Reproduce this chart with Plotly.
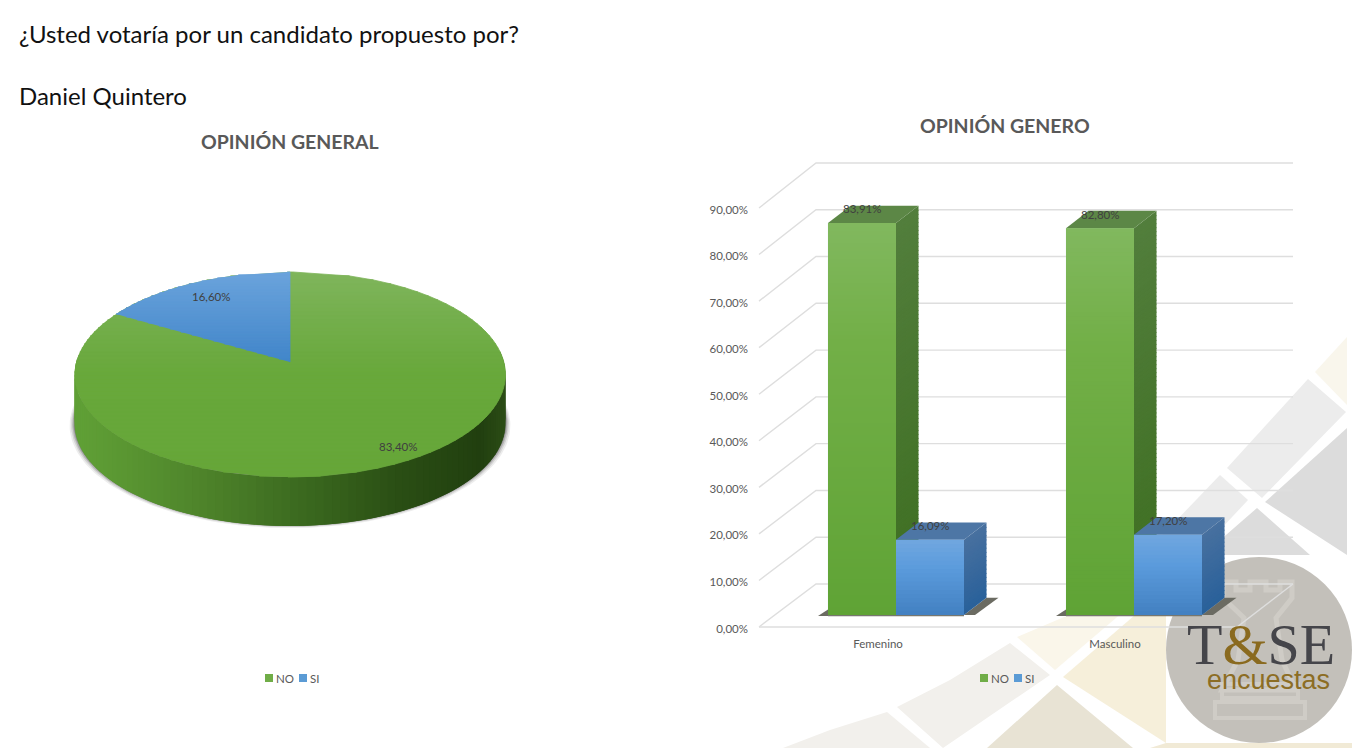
import numpy as np
import plotly.graph_objects as go

# ---------- data ----------
PAGE_TITLE = "¿Usted votaría por un candidato propuesto por?"
PAGE_SUB = "Daniel Quintero"
PIE_TITLE = "OPINIÓN GENERAL"
BAR_TITLE = "OPINIÓN GENERO"
SERIES = ["NO", "SI"]
PIE_VALUES = [83.40, 16.60]
GENDERS = ["Femenino", "Masculino"]
NO_VALUES = [83.91, 82.80]
SI_VALUES = [16.09, 17.20]
Y_TICKS = [0, 10, 20, 30, 40, 50, 60, 70, 80, 90]
Y_TICK_LABELS = ["0,00%", "10,00%", "20,00%", "30,00%", "40,00%", "50,00%", "60,00%", "70,00%", "80,00%", "90,00%"]

W, H = 1352, 748
FONT = "Lato"
GREY = "#595959"


def es(v):
    return f"{v:.2f}".replace(".", ",") + "%"


def lerp_color(stops, t):
    ts = [s[0] for s in stops]
    chans = []
    for i in range(3):
        chans.append(np.interp(t, ts, [int(s[1][1 + 2 * i:3 + 2 * i], 16) for s in stops]))
    return "#%02x%02x%02x" % tuple(int(round(c)) for c in chans)


traces = []
shapes_below = []
shapes_above = []
annotations = []


def page_poly(pts, color):
    d = "M " + " L ".join(f"{x/W:.5f},{1-y/H:.5f}" for x, y in pts) + " Z"
    shapes_below.append(dict(type="path", path=d, xref="paper", yref="paper",
                             fillcolor=color, line=dict(width=0), layer="below"))


def page_text(text, px, py, size, color=GREY, bold=False, anchor="left", family=FONT):
    annotations.append(dict(text=f"<b>{text}</b>" if bold else text, xref="x3", yref="y3", x=px, y=py,
                            showarrow=False, xanchor=anchor, yanchor="middle",
                            font=dict(family=family, size=size, color=color)))


# ---------- background decoration ----------
for pts, col in [
    ([(1347, 337), (1315, 372), (1347, 405)], "#f9f6ec"),
    ([(1308, 379), (1346, 412), (1262, 498), (1227, 468)], "#ececec"),
    ([(1347, 428), (1265, 502), (1347, 555)], "#dcdcdc"),
    ([(1220, 475), (1248, 500), (1203, 548), (1150, 548)], "#ececec"),
    ([(1257, 508), (1310, 555), (1203, 555)], "#dcdcdc"),
    ([(1017, 637), (1055, 670), (1130, 606), (1090, 606)], "#faf6ea"),
    ([(1063, 677), (1135, 615), (1166, 615), (1166, 743)], "#f6efda"),
    ([(1010, 643), (1050, 675), (943, 748), (897, 707), (950, 680)], "#f2f0ec"),
    ([(887, 712), (930, 748), (783, 748), (830, 730)], "#f2f0ec"),
    ([(1057, 685), (1133, 748), (987, 748)], "#e8e3d4"),
    ([(1166, 743), (1150, 748), (1352, 748), (1352, 743)], "#f1ead6"),
]:
    page_poly(pts, col)

# logo disc
shapes_below.append(dict(type="circle", xref="paper", yref="paper",
                         x0=1166 / W, x1=1352 / W, y0=1 - 743 / H, y1=1 - 557 / H,
                         fillcolor="#c3c0ba", line=dict(width=0), layer="below"))
rook = [(1223, 582), (1236, 582), (1236, 590), (1250, 590), (1250, 582), (1266, 582), (1266, 590), (1280, 590),
        (1280, 582), (1292, 582), (1292, 598), (1276, 618), (1282, 660), (1296, 690), (1222, 690), (1238, 660),
        (1244, 618), (1223, 598)]
shapes_below.append(dict(type="path", xref="paper", yref="paper", layer="below",
                         path="M " + " L ".join(f"{x/W:.5f},{1-y/H:.5f}" for x, y in rook) + " Z",
                         fillcolor="rgba(0,0,0,0)", line=dict(color="#cfccc6", width=5)))
for x0, y0, x1, y1 in [(1222, 684, 1298, 698), (1215, 702, 1305, 718)]:
    shapes_below.append(dict(type="rect", xref="paper", yref="paper", layer="below",
                             x0=x0 / W, x1=x1 / W, y0=1 - y1 / H, y1=1 - y0 / H,
                             fillcolor="rgba(0,0,0,0)", line=dict(color="#cfccc6", width=4)))
page_text('<span style="color:#45454a">T</span><span style="color:#8a6a1f">&amp;</span>'
          '<span style="color:#45454a">SE</span>', 1261, 644, 58, family="Liberation Serif", anchor="center")
page_text("encuestas", 1268, 680, 27, color="#8c6d24", family="Liberation Sans", anchor="center")

# ---------- 3-D pie, projected from the slice values ----------
PIE_CX, PIE_CY, PIE_A, PIE_B, PIE_K, PIE_DEPTH = 290.0, 362.0, 213.8, 101.0, 0.122, 49.0


def rim(theta, scale=1.0):
    u, v = scale * np.sin(theta), scale * np.cos(theta)
    w = 1 + PIE_K * v
    return PIE_CX + PIE_A * u / w, PIE_CY - PIE_B * v / w


def poly_trace(xs, ys, color, line=True, xa="x3", ya="y3"):
    return go.Scatter(x=list(xs), y=list(ys), xaxis=xa, yaxis=ya, mode="lines", fill="toself",
                      fillcolor=color, line=dict(color=color, width=0.8 if line else 0),
                      hoverinfo="skip", showlegend=False)


total = sum(PIE_VALUES)
si_angle = 2 * np.pi * PIE_VALUES[1] / total

# soft shadow under the rim
th = np.linspace(0, 2 * np.pi, 241)
rx, ry = rim(th)
for grow, alpha in [(5, 0.08), (3.5, 0.12), (2.2, 0.18), (1, 0.28)]:
    sx = PIE_CX + (rx - PIE_CX) * (1 + grow / 216)
    sy = ry + PIE_DEPTH + grow * 0.6 - 1
    traces.append(poly_trace(sx, sy, f"rgba(30,30,30,{alpha})", line=False))

# side wall: each strip runs on under the next one so no seam shows
SIDE_STOPS = [(0, "#60a036"), (0.25, "#4f852b"), (0.5, "#3a681e"), (0.72, "#2a4e14"), (0.92, "#213f0f"), (1, "#2d4e17")]
edges = np.radians(np.linspace(84, 276, 97))
for i in range(len(edges) - 1):
    lo = max(i - 2, 0)
    sub = np.linspace(edges[i], edges[lo], 4)
    xs_, ys_ = rim(sub)
    t = float(np.clip((np.mean(rim(edges[i:i + 2])[0]) - (PIE_CX - 216)) / 432, 0, 1))
    traces.append(poly_trace(list(xs_) + list(xs_[::-1]), list(ys_) + list(ys_[::-1] + PIE_DEPTH),
                             lerp_color(SIDE_STOPS, t), line=False))


def banded(px, py, stops, step=4):
    """Fill a convex outline with horizontal colour bands (each band is one trace)."""
    px, py = np.append(px, px[0]), np.append(py, py[0])
    top, bot = py.min(), py.max()

    def span(y):
        xs = []
        for i in range(len(px) - 1):
            y0, y1 = py[i], py[i + 1]
            if (y0 - y) * (y1 - y) <= 0 and y0 != y1:
                xs.append(px[i] + (y - y0) / (y1 - y0) * (px[i + 1] - px[i]))
        return (min(xs), max(xs)) if xs else (None, None)

    ys = list(np.arange(top, bot, step)) + [bot]
    for y0, y1 in zip(ys[:-1], ys[1:]):
        a0, b0 = span(min(y0 + 0.01, bot))
        a1, b1 = span(max(y1 - 0.01, top))
        if a0 is None or a1 is None:
            continue
        traces.append(poly_trace([a0, b0, b1, a1], [y0, y0, y1, y1],
                                 lerp_color(stops, (0.5 * (y0 + y1) - 272) / 205)))


# top of the pie: whole disc in the NO colour, then the SI slice laid over it
banded(*rim(np.linspace(0, 2 * np.pi, 361)[:-1]),
       [(0, "#80b55c"), (0.25, "#73ae4b"), (0.5, "#68a83b"), (1, "#66a639")])
arc = np.linspace(-si_angle, 0, 90)
ax_, ay_ = rim(arc)
banded(np.append(ax_, PIE_CX), np.append(ay_, PIE_CY),
       [(0, "#6ba3dc"), (0.44, "#4186c9"), (1, "#4186c9")], step=3)

page_text(es(PIE_VALUES[1]), 211, 296, 11.5, color="#404040", anchor="center")
page_text(es(PIE_VALUES[0]), 398, 446, 11.5, color="#404040", anchor="center")

# ---------- 3-D bars ----------
UX, UY = 238.0, 4.672                # pixels per category, pixels per percent
BASE_PX = 615.0
DX, DY = 22.5 / UX, 17.3 / UY        # depth of a bar in axis units
BAR_W = 68.0 / UX
PLOT_L, PLOT_R, PLOT_T, PLOT_B = 749, 1300, 150, 632

traces.append(go.Bar(x=list(range(2)), y=NO_VALUES, name=SERIES[0], marker_color="#6fae41",
                     xaxis="x", yaxis="y", width=BAR_W, offset=-BAR_W, showlegend=False))
traces.append(go.Bar(x=list(range(2)), y=SI_VALUES, name=SERIES[1], marker_color="#5b9bdc",
                     xaxis="x", yaxis="y", width=BAR_W, offset=0, showlegend=False))

# wall and floor, drawn from the tick values on the label axes
UX2, UY2, FLOOR_PX, LABEL_FLOOR_PX = 237.0, 4.6556, 627.0, 628.5
X2_C0 = 878.0


def to_x2(px):
    return (px - X2_C0) / UX2


def to_y2(py):
    return (LABEL_FLOOR_PX - py) / UY2


gx, gy = [], []
for t in Y_TICKS:
    back = 584 - t * 4.678
    gx += [to_x2(759), to_x2(816), to_x2(1293), None]
    gy += [to_y2(FLOOR_PX - t * UY2), to_y2(back), to_y2(back), None]
gx += [to_x2(759), to_x2(1237), to_x2(1293)]
gy += [to_y2(FLOOR_PX), to_y2(FLOOR_PX), to_y2(584)]
traces.append(go.Scatter(x=gx, y=gy, xaxis="x2", yaxis="y2", mode="lines",
                         line=dict(color="#dedede", width=1.4), hoverinfo="skip", showlegend=False))


def band_shapes(x0, x1, v, stops, skew=False):
    n = max(int(v * UY / 4), 1)
    edges_ = np.linspace(v, 0, n + 1)
    for i in range(n):
        col = lerp_color(stops, i / n)
        a, b = edges_[i], edges_[i + 1]
        # bands overlap the next one down, which is painted over them
        b2 = max(b - 1.0 / UY, 0)
        if skew:
            path = f"M {x0},{a} L {x1},{a+DY} L {x1},{b2+DY} L {x0},{b2} Z"
        else:
            path = f"M {x0},{a} L {x1},{a} L {x1},{b2} L {x0},{b2} Z"
        shapes_above.append(dict(type="path", path=path, xref="x", yref="y", fillcolor=col,
                                 line=dict(width=0), layer="above"))


STYLE = {
    "NO": dict(front=[(0, "#81b85e"), (0.3, "#72af47"), (1, "#5fa335")],
               side=[(0, "#527e3c"), (1, "#3d6e20")], top="#5c8746"),
    "SI": dict(front=[(0, "#6fa6df"), (0.35, "#5b9bdc"), (1, "#417fc0")],
               side=[(0, "#47709f"), (1, "#28609a")], top="#4d76a5"),
}

for i, cat in enumerate(GENDERS):
    # floor shadow
    traces.append(poly_trace([i + BAR_W + DX, i + BAR_W + DX + 12 / UX, i + BAR_W + 11 / UX, i + BAR_W],
                             [DY, DY, 0, 0], "#6b6b62", line=False, xa="x", ya="y"))
    traces.append(poly_trace([i - BAR_W - 10 / UX, i - BAR_W, i - BAR_W], [-0.2, -0.2, 1.2],
                             "#6b6b62", line=False, xa="x", ya="y"))
    traces.append(go.Scatter(x=[i - BAR_W, i + BAR_W], y=[-0.15, -0.15], xaxis="x", yaxis="y", mode="lines",
                             line=dict(color="#77776f", width=1.2), hoverinfo="skip", showlegend=False))
    for name, vals, x0 in [("NO", NO_VALUES, i - BAR_W), ("SI", SI_VALUES, float(i))]:
        v, st, x1 = vals[i], STYLE[name], x0 + BAR_W
        band_shapes(x1, x1 + DX, v, st["side"], skew=True)
        top_path = f"M {x0},{v} L {x1},{v} L {x1+DX},{v+DY} L {x0+DX},{v+DY} Z"
        shapes_above.append(dict(type="path", path=top_path, xref="x", yref="y", fillcolor=st["top"],
                                 line=dict(width=0), layer="above"))
        band_shapes(x0, x1, v, st["front"])
        annotations.append(dict(text=es(v), xref="x", yref="y", x=(x0 + x1) / 2, y=v, yshift=14,
                                showarrow=False, xanchor="center", yanchor="middle",
                                font=dict(family=FONT, size=11.5, color="#404040")))

# ---------- legends ----------
for lx in (265, 980):
    for name, off, col in [(SERIES[0], 0, "#70ad47"), (SERIES[1], 34, "#5b9bd5")]:
        traces.append(go.Scatter(x=[lx + off + 4], y=[678], xaxis="x3", yaxis="y3", mode="markers",
                                 marker=dict(symbol="square", size=8, color=col),
                                 hoverinfo="skip", showlegend=False))
        page_text(name, lx + off + 9, 678, 11.5, anchor="left")

# ---------- headings ----------
page_text(PAGE_TITLE, 17, 33.5, 24, color="#111111")
page_text(PAGE_SUB, 17, 95, 24, color="#111111")
page_text(PIE_TITLE, 290, 141, 19.5, bold=True, anchor="center")
page_text(BAR_TITLE, 1004.5, 125, 19.5, bold=True, anchor="center")

fig = go.Figure(traces)
dom_x = [PLOT_L / W, PLOT_R / W]
dom_y = [1 - PLOT_B / H, 1 - PLOT_T / H]
hidden = dict(visible=False, fixedrange=True, automargin=False)
fig.update_layout(
    width=W, height=H, margin=dict(l=0, r=0, t=0, b=0, autoexpand=False), autosize=False,
    paper_bgcolor="white", plot_bgcolor="rgba(0,0,0,0)", showlegend=False,
    font=dict(family=FONT, color=GREY, size=11.5),
    barmode="overlay",
    shapes=shapes_below + shapes_above,
    annotations=annotations,
    xaxis=dict(domain=dom_x, range=[(PLOT_L - 896) / UX, (PLOT_R - 896) / UX], **hidden),
    yaxis=dict(domain=dom_y, range=[(BASE_PX - PLOT_B) / UY, (BASE_PX - PLOT_T) / UY], **hidden),
    xaxis2=dict(domain=dom_x, range=[to_x2(PLOT_L), to_x2(PLOT_R)], anchor="y2", tickvals=[0, 1],
                ticktext=GENDERS, showgrid=False, zeroline=False, showline=False, ticks="outside",
                ticklen=1, tickcolor="rgba(0,0,0,0)", fixedrange=True, automargin=False,
                tickfont=dict(family=FONT, size=11.5, color=GREY)),
    yaxis2=dict(domain=dom_y, range=[to_y2(PLOT_B), to_y2(PLOT_T)], anchor="x2", tickvals=Y_TICKS,
                ticktext=Y_TICK_LABELS, showgrid=False, zeroline=False, showline=False, ticks="",
                fixedrange=True, automargin=False, tickfont=dict(family=FONT, size=11.5, color=GREY)),
    xaxis3=dict(domain=[0, 1], range=[0, W], anchor="y3", **hidden),
    yaxis3=dict(domain=[0, 1], range=[H, 0], anchor="x3", **hidden),
)
fig.write_html("out.html", config=dict(displayModeBar=False),
               post_script="document.body.style.margin='0';document.body.style.overflow='hidden';")
